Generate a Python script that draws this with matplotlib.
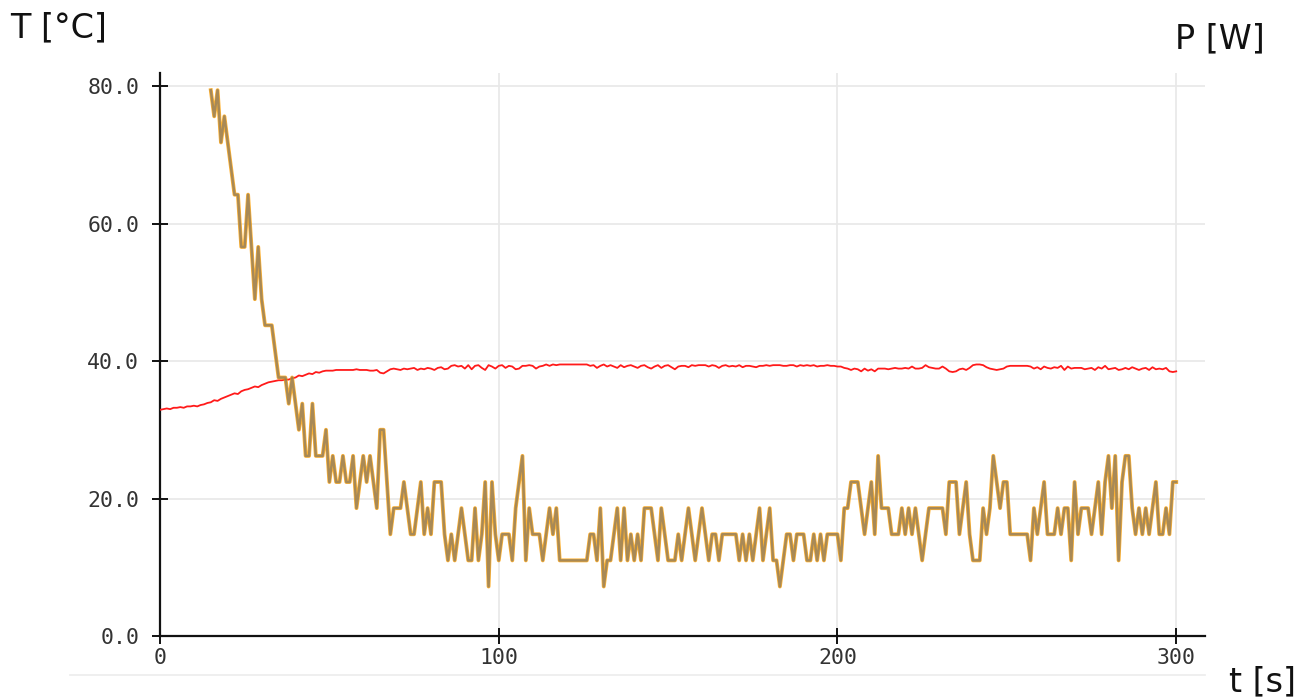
import numpy as np
import matplotlib.pyplot as plt
from matplotlib.lines import Line2D

# heater temperature (red), one sample per second from t=0
temp_red = [
    32.9, 33.0, 33.1, 33.0, 33.2, 33.2, 33.3, 33.2, 33.4, 33.4,
    33.5, 33.4, 33.6, 33.7, 33.9, 34.0, 34.3, 34.2, 34.5, 34.7,
    34.9, 35.1, 35.3, 35.2, 35.6, 35.8, 35.9, 36.1, 36.3, 36.2,
    36.5, 36.7, 36.9, 37.0, 37.1, 37.2, 37.2, 37.3, 37.3, 37.5,
    37.6, 37.9, 37.8, 38.0, 38.2, 38.1, 38.4, 38.3, 38.5, 38.6,
    38.6, 38.6, 38.7, 38.7, 38.7, 38.7, 38.7, 38.7, 38.8, 38.7,
    38.7, 38.7, 38.6, 38.6, 38.7, 38.3, 38.2, 38.5, 38.8, 38.9,
    38.8, 38.7, 38.9, 38.8, 38.9, 39.0, 38.7, 38.9, 38.8, 39.0,
    38.9, 38.7, 39.0, 39.1, 38.8, 38.9, 39.3, 39.4, 39.2, 39.3,
    38.9, 39.4, 38.8, 39.3, 39.4, 39.0, 38.7, 39.4, 39.2, 38.9,
    39.3, 39.4, 39.0, 39.3, 39.2, 38.8, 38.9, 39.3, 39.3, 39.4,
    39.3, 38.9, 39.2, 39.3, 39.5, 39.3, 39.5, 39.4, 39.5, 39.5,
    39.5, 39.5, 39.5, 39.5, 39.5, 39.5, 39.5, 39.3, 39.4, 39.0,
    39.3, 39.5, 39.2, 39.4, 39.2, 39.0, 39.4, 39.1, 39.3, 39.4,
    39.2, 39.0, 39.3, 39.4, 39.1, 38.9, 39.2, 39.4, 39.0, 39.3,
    39.4, 39.1, 38.8, 39.2, 39.3, 39.3, 39.1, 39.4, 39.3, 39.4,
    39.4, 39.4, 39.2, 39.4, 39.3, 39.0, 39.3, 39.4, 39.2, 39.3,
    39.2, 39.4, 39.1, 39.3, 39.3, 39.2, 39.1, 39.3, 39.3, 39.4,
    39.3, 39.4, 39.4, 39.4, 39.3, 39.3, 39.4, 39.4, 39.2, 39.4,
    39.3, 39.4, 39.3, 39.4, 39.2, 39.3, 39.3, 39.4, 39.3, 39.3,
    39.2, 39.2, 39.0, 38.9, 38.7, 38.9, 38.8, 38.5, 38.9, 38.6,
    38.8, 38.5, 38.9, 38.9, 38.9, 38.8, 38.9, 39.0, 38.9, 38.9,
    39.0, 38.9, 39.2, 38.9, 38.9, 39.0, 39.4, 39.1, 39.0, 38.9,
    38.9, 39.2, 38.9, 38.5, 38.4, 38.5, 38.8, 38.9, 38.7, 39.0,
    39.4, 39.5, 39.5, 39.4, 39.1, 38.9, 38.8, 38.7, 38.8, 38.9,
    39.2, 39.3, 39.3, 39.3, 39.3, 39.3, 39.3, 39.2, 38.9, 39.1,
    38.8, 39.2, 39.0, 38.9, 39.1, 39.0, 39.3, 38.7, 39.2, 38.9,
    39.0, 39.0, 39.0, 38.8, 38.9, 39.0, 38.7, 39.1, 38.9, 39.3,
    38.8, 38.9, 39.0, 38.7, 38.8, 39.0, 38.8, 39.1, 38.9, 38.7,
    38.9, 39.0, 38.7, 39.1, 38.8, 38.9, 38.8, 39.0, 38.5, 38.4,
    38.5,
]

# heater power (orange / grey), one sample per second from t=15
power_start = 15
power = [
    79.4, 75.6, 79.4, 71.8, 75.6, 71.8, 68.0, 64.2, 64.2, 56.6,   # 15
    56.6, 64.2, 56.6, 49.0, 56.6, 49.0, 45.2, 45.2, 45.2, 41.4,   # 25
    37.6, 37.6, 37.6, 33.8, 37.6, 33.8, 30.0, 33.8, 26.2, 26.2,   # 35
    33.8, 26.2, 26.2, 26.2, 30.0, 22.4, 26.2, 22.4, 22.4, 26.2,   # 45
    22.4, 22.4, 26.2, 18.6, 22.4, 26.2, 22.4, 26.2, 22.4, 18.6,   # 55
    30.0, 30.0, 22.4, 14.8, 18.6, 18.6, 18.6, 22.4, 18.6, 14.8,   # 65
    14.8, 18.6, 22.4, 14.8, 18.6, 14.8, 22.4, 22.4, 22.4, 14.8,   # 75
    11.0, 14.8, 11.0, 14.8, 18.6, 14.8, 11.0, 11.0, 18.6, 11.0,   # 85
    14.8, 22.4, 7.2, 22.4, 14.8, 11.0, 14.8, 14.8, 14.8, 11.0,    # 95
    18.6, 22.4, 26.2, 11.0, 18.6, 14.8, 14.8, 14.8, 11.0, 14.8,   # 105
    18.6, 14.8, 18.6, 11.0, 11.0, 11.0, 11.0, 11.0, 11.0, 11.0,   # 115
    11.0, 11.0, 14.8, 14.8, 11.0, 18.6, 7.2, 11.0, 11.0, 14.8,    # 125
    18.6, 11.0, 18.6, 11.0, 14.8, 11.0, 14.8, 11.0, 18.6, 18.6,   # 135
    18.6, 14.8, 11.0, 18.6, 14.8, 11.0, 11.0, 11.0, 14.8, 11.0,   # 145
    14.8, 18.6, 14.8, 11.0, 14.8, 18.6, 14.8, 11.0, 14.8, 14.8,   # 155
    11.0, 14.8, 14.8, 14.8, 14.8, 14.8, 11.0, 14.8, 11.0, 14.8,   # 165
    11.0, 14.8, 18.6, 11.0, 14.8, 18.6, 11.0, 11.0, 7.2, 11.0,    # 175
    14.8, 14.8, 11.0, 14.8, 14.8, 14.8, 11.0, 11.0, 14.8, 11.0,   # 185
    14.8, 11.0, 14.8, 14.8, 14.8, 14.8, 11.0, 18.6, 18.6, 22.4,   # 195
    22.4, 22.4, 18.6, 14.8, 18.6, 22.4, 14.8, 26.2, 18.6, 18.6,   # 205
    18.6, 14.8, 14.8, 14.8, 18.6, 14.8, 18.6, 14.8, 18.6, 14.8,   # 215
    11.0, 14.8, 18.6, 18.6, 18.6, 18.6, 18.6, 14.8, 22.4, 22.4,   # 225
    22.4, 14.8, 18.6, 22.4, 14.8, 11.0, 11.0, 11.0, 18.6, 14.8,   # 235
    18.6, 26.2, 22.4, 18.6, 22.4, 22.4, 14.8, 14.8, 14.8, 14.8,   # 245
    14.8, 14.8, 11.0, 18.6, 14.8, 18.6, 22.4, 14.8, 14.8, 14.8,   # 255
    18.6, 14.8, 18.6, 18.6, 11.0, 22.4, 14.8, 18.6, 18.6, 18.6,   # 265
    14.8, 18.6, 22.4, 14.8, 22.4, 26.2, 18.6, 26.2, 11.0, 22.4,   # 275
    26.2, 26.2, 18.6, 14.8, 18.6, 14.8, 18.6, 14.8, 18.6, 22.4,   # 285
    14.8, 14.8, 18.6, 14.8, 22.4, 22.4,                           # 295
]

x_ticks = [0, 100, 200, 300]
y_ticks = [0, 20, 40, 60, 80]

W, H = 1311, 699


def fig_xy(px, py):
    # pixel position (from top-left) -> figure fraction
    return px / W, 1 - py / H


def main():
    fig = plt.figure(figsize=(W / 100, H / 100), dpi=100)
    ax = fig.add_axes([160 / W, 1 - 636 / H, (1205 - 160) / W, (636 - 73) / H])

    t_red = np.arange(len(temp_red))
    t_pow = np.arange(power_start, power_start + len(power))

    ax.plot(t_red, temp_red, color='#ff1a1a', linewidth=1.3, zorder=3)
    ax.plot(t_pow, power, color='#ffa000', linewidth=2.8, alpha=0.8, zorder=4)
    ax.plot(t_pow, power, color='#6e6e6e', linewidth=1.8, alpha=0.6, zorder=5)

    ax.set_xlim(0, 308.5)
    ax.set_ylim(0, 81.9)
    ax.set_xticks(x_ticks)
    ax.set_yticks(y_ticks)
    ax.set_xticklabels([str(v) for v in x_ticks])
    ax.set_yticklabels(['%.1f' % v for v in y_ticks])

    ax.grid(True, color='#e8e8e8', linewidth=1.2)
    ax.set_axisbelow(True)
    for side in ['top', 'right']:
        ax.spines[side].set_visible(False)
    for side in ['left', 'bottom']:
        ax.spines[side].set_linewidth(1.6)
        ax.spines[side].set_color('#111111')

    ax.tick_params(axis='both', direction='inout', length=12, width=1.4, color='#111111',
                   labelsize=15.5, labelcolor='#333333')
    ax.tick_params(axis='y', pad=9)
    ax.tick_params(axis='x', pad=3)
    for lab in ax.get_xticklabels() + ax.get_yticklabels():
        lab.set_family('DejaVu Sans Mono')

    # axis titles placed like the original chart
    fig.text(*fig_xy(10, 11), 'T [°C]', fontsize=24, ha='left', va='top', color='#111111')
    fig.text(*fig_xy(1265, 22), 'P [W]', fontsize=24, ha='right', va='top', color='#111111')
    fig.text(*fig_xy(1296, 665), 't [s]', fontsize=24, ha='right', va='top', color='#111111')

    # faint border line under the chart
    x0, y0 = fig_xy(70, 675)
    x1, _ = fig_xy(1205, 675)
    fig.add_artist(Line2D([x0, x1], [y0, y0], color='#ececec', linewidth=1.2))

    fig.savefig('out.png', dpi=100)


if __name__ == "__main__":
    main()
